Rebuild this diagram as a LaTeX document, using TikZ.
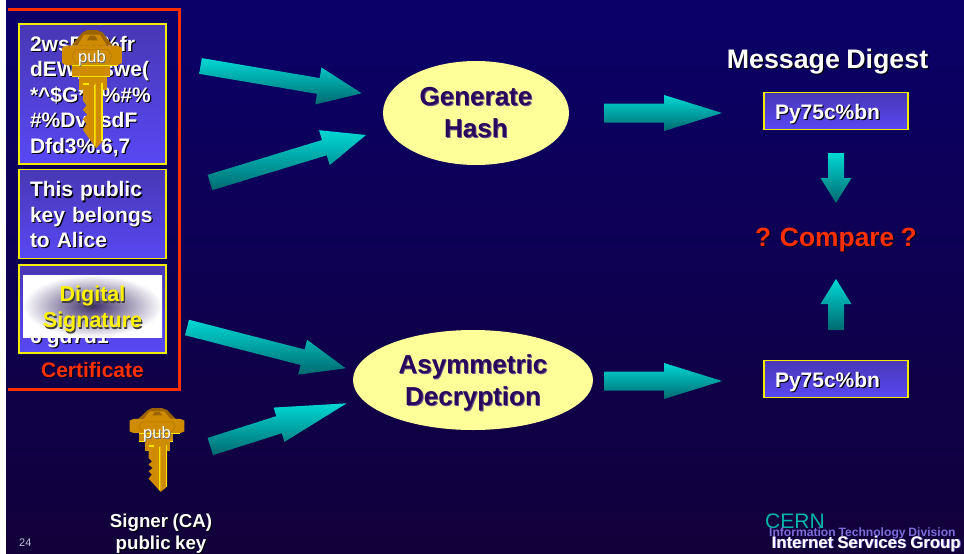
\documentclass[tikz,border=0pt]{standalone}
\usepackage{fontspec}
\setmainfont[WordSpace=0.85]{Liberation Sans}
\usetikzlibrary{calc,shapes.geometric}
\definecolor{bgtop}{HTML}{0A0068}
\definecolor{bgbot}{HTML}{12003A}
\definecolor{boxtop}{HTML}{4838B4}
\definecolor{boxbot}{HTML}{5848F4}
\definecolor{boxline}{HTML}{F4EC00}
\definecolor{certred}{HTML}{FF3000}
\definecolor{arrtop}{HTML}{00D8D4}
\definecolor{arrbot}{HTML}{006A70}
\definecolor{ellfill}{HTML}{FFFF99}
\definecolor{elltext}{HTML}{28085C}
\definecolor{keygold}{HTML}{D08C00}
\definecolor{keydark}{HTML}{9C6400}
\definecolor{keyyel}{HTML}{FFE800}
\definecolor{cernteal}{HTML}{00B4A8}
\definecolor{itpurple}{HTML}{7C6CD8}
\definecolor{stampdark}{HTML}{3C2C68}
% text with a drop shadow
\newcommand{\shtxt}[3][1.2pt]{\leavevmode\rlap{\kern#1\raisebox{-#1}{\textcolor{#2}{#3}}}#3}
\newcommand{\blockarrow}[5]{% tail, tip, shaft width, head width, head length
  \coordinate (ta) at (#1);\coordinate (ti) at (#2);
  \coordinate (hb) at ($(ti)!#5pt!(ta)$);
  \shade[top color=arrtop,bottom color=arrbot]
    ($(ta)!#3pt/2!90:(ti)$) -- ($(hb)!#3pt/2!-90:(ta)$) -- ($(hb)!#4pt/2!-90:(ta)$) -- (ti)
    -- ($(hb)!#4pt/2!90:(ta)$) -- ($(hb)!#3pt/2!90:(ta)$) -- ($(ta)!#3pt/2!-90:(ti)$) -- cycle;}
\tikzset{
  x=1pt,y=-1pt,
  txtbox/.style={draw=boxline,line width=1.1pt,top color=boxtop,bottom color=boxbot,
    text=white,inner xsep=0pt,inner ysep=0pt,minimum width=147pt,text width=125pt,align=left,
    font=\bfseries\fontsize{21}{25.5}\selectfont},
  digestbox/.style={draw=boxline,line width=1.1pt,top color=boxtop,bottom color=boxbot,
    text=white,inner sep=0pt,minimum width=144pt,minimum height=37.5pt,text width=122pt,align=left,
    text height=16.6pt,text depth=0pt,font=\bfseries\fontsize{21}{24}\selectfont},
  bubble/.style={ellipse,fill=ellfill,inner sep=0pt,text=elltext,align=center,
    font=\bfseries\fontsize{26}{32}\selectfont},
  title/.style={anchor=base,inner sep=0pt,text=white,font=\bfseries\fontsize{26.8}{30}\selectfont},
  keylabel/.style={inner sep=0pt,text=white,font=\fontsize{16.5}{16.5}\selectfont},
  goldkey/.pic={
    \fill[keydark] (-27,6)--(-14,0)--(14,0)--(30,6)--(56,33)--(-56,33)--cycle;
    \fill[keygold] (-40,33)--(-22,10)--(22,10)--(40,33)--cycle;
    \fill[keydark] (-14,22)--(-6,12)--(8,12)--(16,22)--cycle;
    \fill[keygold] (-82,38)--(-70,33)--(70,33)--(82,38)--(82,70)--(70,75)--(-70,75)--(-82,70)--cycle;
    \draw[keydark!60!keygold,line width=.5pt] (-55,55)--(-45,42)--(45,42)--(55,55)--(45,70)--(-45,70)--cycle;
    \fill[keygold] (-54,75) rectangle (48,100);
    \fill[keyyel] (-54,74) rectangle (70,76);
    \fill[keyyel] (-54,98) rectangle (48,100);
    \fill[keygold] (-36,100) rectangle (40,128);
    \fill[keygold] (-25,112)--(-25,150)--(-15,160)--(-25,170)--(-13,180)--(-25,190)--(-15,200)--(-25,212)--(11,252)--(30,236)--(30,112)--cycle;
    \fill[keyyel] (-25,112) rectangle (-8,118);
    \fill[keyyel] (6,118)--(10,114)--(10,244)--(6,248)--cycle;
    \fill[keyyel] (26,112) rectangle (29,236);
  },
}
\begin{document}
\begin{tikzpicture}
\useasboundingbox (0,0) rectangle (964,554);
\fill[white] (0,0) rectangle (6,554);
\shade[top color=bgtop,bottom color=bgbot] (6,0) rectangle (964,554);
% certificate frame
\draw[certred,line width=3pt] (8,9.5) -- (179,9.5) -- (179,389) -- (8,389);
% boxes
\node[txtbox,minimum height=140pt] (hashed) at (92.5,94) {%
  \rule{0pt}{21pt}\shtxt{black}{2wsF4t\%fr}\\
  \shtxt{black}{dEWgdswe(}\\
  \shtxt{black}{*\^{}\$G*\&\%\#\%}\\
  \shtxt{black}{\#\%DvgsdF}\\
  \shtxt{black}{Dfd3\%.6,7}};
\node[txtbox,minimum height=89pt] (claim) at (92.5,214) {%
  \rule{0pt}{18pt}\shtxt{black}{This public}\\
  \shtxt{black}{key belongs}\\
  \shtxt{black}{to Alice}};
\node[txtbox,minimum height=88pt] (sigbox) at (92.5,309) {};
\node[anchor=base west,inner sep=0pt,text=white,font=\bfseries\fontsize{21}{25}\selectfont] (sigtail) at (30,343) {\shtxt{black}{6 gd7d1}};
\node[minimum width=139pt,minimum height=62pt,inner sep=0pt,inner color=stampdark,outer color=white,
  text=yellow,align=center,font=\bfseries\fontsize{21.5}{26}\selectfont] (sigstamp) at (92.5,306)
  {\rule{0pt}{23.5pt}\shtxt{black!75}{Digital}\\\shtxt{black!75}{Signature}};
\node[anchor=base,inner sep=0pt,text=certred,font=\bfseries\fontsize{21}{24}\selectfont] (certlabel) at (92.5,377) {\shtxt{black!70!bgtop}{Certificate}};
% keys
\pic[xscale=.365,yscale=.47] at (92,30) {goldkey};
\node[keylabel] (pubA) at (92,59) {\shtxt[.7pt]{black!60}{pub}};
\pic[xscale=.335,yscale=.333] at (157,408) {goldkey};
\node[keylabel] (pubB) at (157,435) {\shtxt[.7pt]{black!60}{pub}};
\node[inner sep=0pt,text=white,align=center,font=\bfseries\fontsize{18.7}{22}\selectfont] (signer) at (161,534) {\shtxt[1pt]{black}{Signer (CA)}\\\shtxt[1pt]{black}{public key}};
% process bubbles
\node[bubble,minimum width=186pt,minimum height=104pt] (hash) at (476,113) {\shtxt[.9pt]{elltext!70}{Generate}\\\shtxt[.9pt]{elltext!70}{Hash}};
\node[bubble,minimum width=240pt,minimum height=100pt] (decrypt) at (473,380) {\rule{0pt}{25pt}\shtxt[.9pt]{elltext!70}{Asymmetric}\\\shtxt[.9pt]{elltext!70}{Decryption}};
% block arrows
\blockarrow{200.5,66}{361.7,93.3}{16}{37.5}{44}
\blockarrow{210,182.5}{366,135}{16}{36.5}{43.5}
\blockarrow{187,327.5}{345.7,368.3}{16}{36}{44.5}
\blockarrow{210.3,446.5}{346.7,403.3}{18}{36}{71}
\blockarrow{604,113}{722,113}{19}{36}{58}
\blockarrow{604,381}{722,381}{19}{36}{58}
\blockarrow{836,153}{836,203}{16}{31}{25}
\blockarrow{836,330}{836,279}{16}{31}{25}
% right column
\node[title] (digesttitle) at (827.5,68.3) {\shtxt{black}{Message Digest}};
\node[digestbox] (digestA) at (836,111) {\shtxt{black}{Py75c\%bn}};
\node[digestbox] (digestB) at (836,379) {\shtxt{black}{Py75c\%bn}};
\node[title,text=certred,font=\bfseries\fontsize{26.4}{30}\selectfont] (compare) at (836,246.7) {\shtxt{black!70!bgtop}{? Compare ?}};
% footer
\node[anchor=base west,inner sep=0pt,text=white!75!bgtop,font=\fontsize{11}{11}\selectfont] (pageno) at (19,546) {24};
\node[anchor=base west,inner sep=0pt,text=cernteal,font=\fontsize{21}{21}\selectfont] (cern) at (765,528) {CERN};
\node[anchor=base west,inner sep=0pt,text=itpurple,font=\bfseries\fontsize{12.1}{13}\selectfont] (itd) at (769,536) {Information Technology Division};
\node[anchor=base west,inner sep=0pt,text=white,font=\bfseries\fontsize{16.8}{17}\selectfont] (isg) at (771.5,548) {\shtxt[.8pt]{itpurple}{Internet Services Group}};
\end{tikzpicture}
\end{document}
